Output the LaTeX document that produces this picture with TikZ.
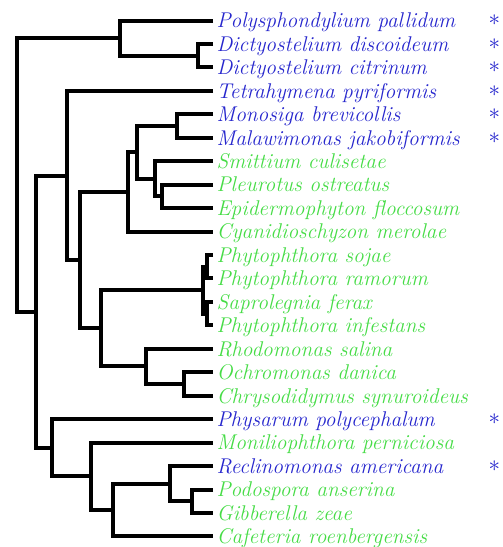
\documentclass[tikz,border=0pt]{standalone}
\usepackage{fontspec}
\definecolor{tblue}{RGB}{38,38,205}
\definecolor{tgreen}{RGB}{70,220,70}
\tikzset{
  branch/.style={line width=3pt, line join=miter, line cap=butt},
  leafname/.style={anchor=base west, inner sep=0pt, font=\fontsize{16}{19}\selectfont\itshape},
  star/.style={inner sep=0pt, text=tblue, font=\fontsize{16}{19}\selectfont},
}
\begin{document}
\begin{tikzpicture}[x=0.75pt,y=-0.75pt]
\useasboundingbox (0,0) rectangle (503,547);
% leaf endpoints
\foreach \i/\yy in {0/20.5,1/43.95,2/67.4,3/90.85,4/114.3,5/137.75,6/161.2,7/184.65,8/208.1,9/231.55,10/255,11/278.45,12/301.9,13/325.35,14/348.8,15/372.25,16/395.7,17/419.15,18/442.6,19/466.05,20/489.5,21/512.95,22/536.4}{
  \coordinate (l\i) at (213,\yy);
}
% internal nodes
\coordinate (nDD) at (198,55.7);
\coordinate (nDic) at (120,38.1);
\coordinate (nMM) at (177,126);
\coordinate (nPE) at (162,196.4);
\coordinate (nSPE) at (155,178.8);
\coordinate (nFun) at (137,152.4);
\coordinate (nCy) at (128,192);
\coordinate (nPa) at (207,266.7);
\coordinate (nPb) at (207,313.6);
\coordinate (nP) at (203,290.2);
\coordinate (nOC) at (184,384);
\coordinate (nRh) at (146,366.4);
\coordinate (nStr) at (101,328.3);
\coordinate (nB) at (80,260.1);
\coordinate (nT) at (67,175.5);
\coordinate (nPG) at (192,501.2);
\coordinate (nRe) at (170,483.6);
\coordinate (nCa) at (113,510);
\coordinate (nMo) at (91,476.3);
\coordinate (nPh) at (52,447.7);
\coordinate (nA) at (36,311.6);
\coordinate (root) at (17,174.9);
% branches
\draw[branch] (l1) -| (nDD) |- (l2);
\draw[branch] (l0) -| (nDic) |- (nDD);
\draw[branch] (l4) -| (nMM) |- (l5);
\draw[branch] (l7) -| (nPE) |- (l8);
\draw[branch] (l6) -| (nSPE) |- (nPE);
\draw[branch] (nMM) -| (nFun) |- (nSPE);
\draw[branch] (nFun) -| (nCy) |- (l9);
\draw[branch] (l10) -| (nPa) |- (l11);
\draw[branch] (l12) -| (nPb) |- (l13);
\draw[branch] (nPa) -| (nP) |- (nPb);
\draw[branch] (l15) -| (nOC) |- (l16);
\draw[branch] (l14) -| (nRh) |- (nOC);
\draw[branch] (nP) -| (nStr) |- (nRh);
\draw[branch] (nCy) -| (nB) |- (nStr);
\draw[branch] (l3) -| (nT) |- (nB);
\draw[branch] (l20) -| (nPG) |- (l21);
\draw[branch] (l19) -| (nRe) |- (nPG);
\draw[branch] (nRe) -| (nCa) |- (l22);
\draw[branch] (l18) -| (nMo) |- (nCa);
\draw[branch] (l17) -| (nPh) |- (nMo);
\draw[branch] (nT) -| (nA) |- (nPh);
\draw[branch] (nDic) -| (root) |- (nA);
% leaf names
\foreach \i/\nm/\cl in {
  0/Polysphondylium pallidum/tblue,
  1/Dictyostelium discoideum/tblue,
  2/Dictyostelium citrinum/tblue,
  3/Tetrahymena pyriformis/tblue,
  4/Monosiga brevicollis/tblue,
  5/Malawimonas jakobiformis/tblue,
  6/Smittium culisetae/tgreen,
  7/Pleurotus ostreatus/tgreen,
  8/Epidermophyton floccosum/tgreen,
  9/Cyanidioschyzon merolae/tgreen,
  10/Phytophthora sojae/tgreen,
  11/Phytophthora ramorum/tgreen,
  12/Saprolegnia ferax/tgreen,
  13/Phytophthora infestans/tgreen,
  14/Rhodomonas salina/tgreen,
  15/Ochromonas danica/tgreen,
  16/Chrysodidymus synuroideus/tgreen,
  17/Physarum polycephalum/tblue,
  18/Moniliophthora perniciosa/tgreen,
  19/Reclinomonas americana/tblue,
  20/Podospora anserina/tgreen,
  21/Gibberella zeae/tgreen,
  22/Cafeteria roenbergensis/tgreen}{
  \node[leafname, text=\cl] (t\i) at ([xshift=2.5pt,yshift=-5.5pt]l\i) {\nm};
}
% asterisks
\foreach \i in {0,1,2,3,4,5,17,19}{
  \node[star] (s\i) at ([xshift=211pt]l\i) {$\ast$};
}
\end{tikzpicture}
\end{document}
